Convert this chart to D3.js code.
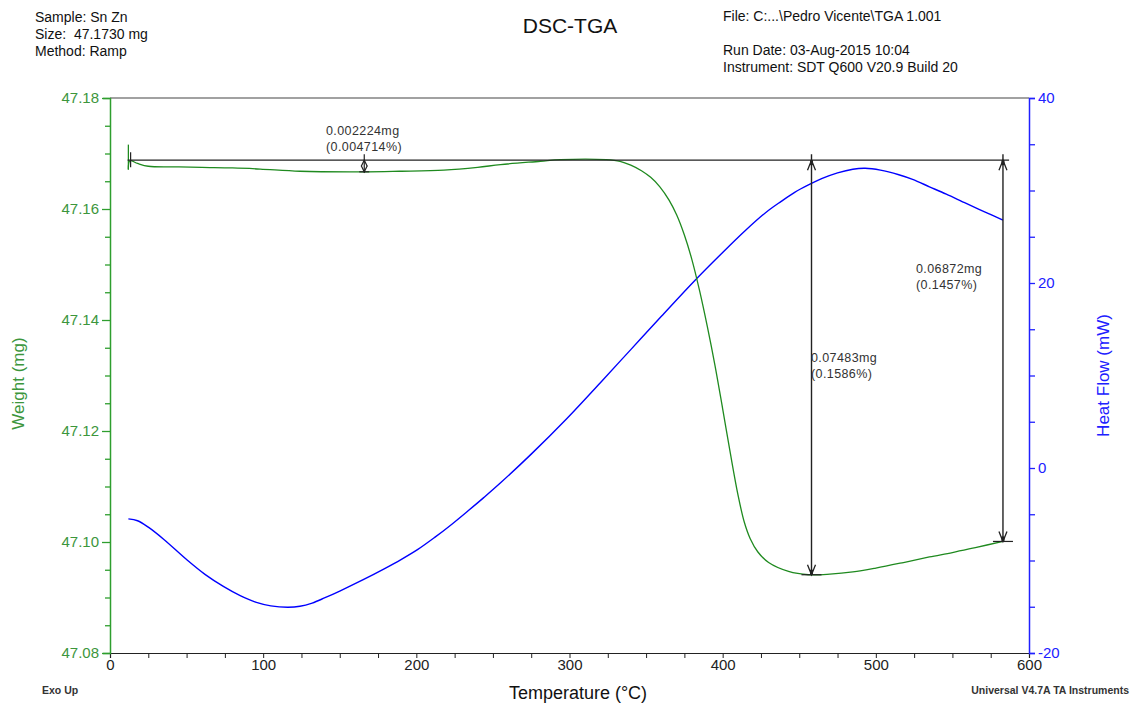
<!DOCTYPE html>
<html>
<head>
<meta charset="utf-8">
<script src="https://cdn.jsdelivr.net/npm/d3@7"></script>
<style>
  body { margin: 0; background: #fff; }
  svg text { font-family: "Liberation Sans", Arial, sans-serif; }
</style>
</head>
<body>
<svg width="1134" height="706"></svg>
<script>
// weight curve (temperature in C, weight in mg)
const weightTemp = [12, 13, 18, 25, 45, 60, 80, 98, 124, 166, 189, 218, 240, 255, 281, 294, 324, 333, 340, 347, 353, 359, 365, 370, 375, 380, 385, 390, 395, 400, 405, 410, 414, 418, 423, 430, 443, 456, 470, 485, 500, 518, 535, 550, 565, 583];
const weightVal = [47.1671, 47.1687, 47.1682, 47.1677, 47.1676, 47.1675, 47.1674, 47.1672, 47.1668, 47.1667, 47.1668, 47.1670, 47.1675, 47.1680, 47.1686, 47.1689, 47.1689, 47.1686, 47.1679, 47.1669, 47.1657, 47.1640, 47.1616, 47.1589, 47.1553, 47.1508, 47.1452, 47.1388, 47.1318, 47.1240, 47.1160, 47.1085, 47.1037, 47.1006, 47.0982, 47.0963, 47.0947, 47.0941, 47.0942, 47.0946, 47.0953, 47.0963, 47.0973, 47.0981, 47.0990, 47.1001];
// start spike of the weight signal
const spikeTemp = 12;
const spikeVal = [47.1716, 47.1671];

// heat flow curve (mW)
const heatTemp = [12, 18, 25, 35, 50, 62, 74, 85, 95, 105, 116, 124, 132, 140, 150, 165, 179, 190, 201, 212, 223, 234, 244, 255, 275, 298, 320, 340, 360, 382, 400, 415, 428, 438, 447, 456, 465, 475, 485, 493, 503, 515, 524, 535, 546, 559, 571, 583];
const heatVal = [-5.5, -5.7, -6.4, -7.7, -9.9, -11.5, -12.8, -13.8, -14.5, -14.9, -15.05, -14.95, -14.6, -14.05, -13.3, -12.1, -10.9, -9.9, -8.8, -7.5, -6.1, -4.6, -3.2, -1.6, 1.5, 5.3, 9.2, 12.8, 16.4, 20.3, 23.3, 25.7, 27.6, 28.8, 29.8, 30.6, 31.3, 31.9, 32.3, 32.4, 32.2, 31.7, 31.2, 30.4, 29.6, 28.6, 27.7, 26.8];

// step annotations
const baseWeight = 47.1688;
const lineStart = 11.5, lineEnd = 587;
const stepTemp = [166, 458, 583];
const stepLow = [47.1667, 47.0941, 47.1001];
const stepLabels = [
  ["0.002224mg", "(0.004714%)"],
  ["0.07483mg", "(0.1586%)"],
  ["0.06872mg", "(0.1457%)"]
];

const xTicks = [0, 100, 200, 300, 400, 500, 600];
const yLeftTicks = [47.08, 47.10, 47.12, 47.14, 47.16, 47.18];
const yRightTicks = [-20, 0, 20, 40];

const svg = d3.select("svg");
const margin = { left: 110, right: 105, top: 98, bottom: 53 };

const x = d3.scaleLinear().domain([0, 600]).range([margin.left, 1029]);
const yL = d3.scaleLinear().domain([47.08, 47.18]).range([653, margin.top]);
const yR = d3.scaleLinear().domain([-20, 40]).range([653, margin.top]);

const greenAxis = "#2e9e2e", greenText = "#3c963c", greenLine = "#1f8a1f";
const blueAxis = "#2020ff", blueLine = "#0000ff";

// header texts
const hdr = svg.append("g").attr("font-size", 14).attr("fill", "#111");
["Sample: Sn Zn", "Size:  47.1730 mg", "Method: Ramp"].forEach((t, i) => {
  hdr.append("text").attr("x", 35).attr("y", 22 + i * 17).attr("xml:space", "preserve").text(t);
});
[["File: C:...\\Pedro Vicente\\TGA 1.001", 21], ["Run Date: 03-Aug-2015 10:04", 55], ["Instrument: SDT Q600 V20.9 Build 20", 72]].forEach(([t, yy]) => {
  hdr.append("text").attr("x", 723).attr("y", yy).text(t);
});
svg.append("text").attr("x", 570).attr("y", 33).attr("text-anchor", "middle")
  .attr("font-size", 21).attr("fill", "#111").text("DSC-TGA");

// frame top
svg.append("line").attr("x1", x(0)).attr("x2", x(600)).attr("y1", yL(47.18)).attr("y2", yL(47.18))
  .attr("stroke", "#444").attr("stroke-width", 1.2);

// bottom axis
const xAxisG = svg.append("g").attr("transform", `translate(0,${yL(47.08)})`)
  .call(d3.axisBottom(x).tickValues(d3.range(0, 601, 25)).tickSize(5).tickFormat(d => xTicks.includes(d) ? d : ""));
xAxisG.select(".domain").attr("stroke", "#222").attr("stroke-width", 1.2);
xAxisG.selectAll(".tick line").attr("stroke", "#222");
xAxisG.selectAll(".tick text").attr("font-size", 15).attr("fill", "#222").attr("dy", "0.6em")
  .attr("font-family", "Liberation Sans, Arial, sans-serif");

// left axis
const yLAxisG = svg.append("g").attr("transform", `translate(${x(0)},0)`)
  .call(d3.axisLeft(yL).tickValues(d3.range(0, 21).map(i => 47.08 + i * 0.005)).tickSize(7)
    .tickFormat(d => yLeftTicks.some(t => Math.abs(t - d) < 1e-6) ? d3.format(".2f")(d) : ""));
yLAxisG.select(".domain").attr("stroke", greenAxis).attr("stroke-width", 1.5);
yLAxisG.selectAll(".tick line").attr("stroke", greenAxis).attr("stroke-width", 1.3)
  .attr("x2", d => yLeftTicks.some(t => Math.abs(t - d) < 1e-6) ? -8 : -5);
yLAxisG.selectAll(".tick text").attr("font-size", 15).attr("fill", greenText).attr("x", -11)
  .attr("font-family", "Liberation Sans, Arial, sans-serif");

// right axis
const yRAxisG = svg.append("g").attr("transform", `translate(${x(600)},0)`)
  .call(d3.axisRight(yR).tickValues(d3.range(-20, 41, 5)).tickSize(6)
    .tickFormat(d => yRightTicks.includes(d) ? d : ""));
yRAxisG.select(".domain").attr("stroke", blueAxis).attr("stroke-width", 1.5);
yRAxisG.selectAll(".tick line").attr("stroke", blueAxis).attr("stroke-width", 1.3);
yRAxisG.selectAll(".tick text").attr("font-size", 15).attr("fill", blueAxis).attr("x", 9)
  .attr("font-family", "Liberation Sans, Arial, sans-serif");

// axis titles
svg.append("text").attr("transform", `translate(24,${(yL(47.08) + yL(47.18)) / 2 + 8}) rotate(-90)`)
  .attr("text-anchor", "middle").attr("font-size", 17).attr("fill", greenText).text("Weight (mg)");
svg.append("text").attr("transform", `translate(1109,${(yR(-20) + yR(40)) / 2}) rotate(-90)`)
  .attr("text-anchor", "middle").attr("font-size", 17).attr("fill", blueAxis).text("Heat Flow (mW)");
svg.append("text").attr("x", 578).attr("y", 699).attr("text-anchor", "middle")
  .attr("font-size", 18).attr("fill", "#111").text("Temperature (°C)");
svg.append("text").attr("x", 42).attr("y", 694).attr("font-size", 10.5).attr("font-weight", "bold")
  .attr("fill", "#333").text("Exo Up");
svg.append("text").attr("x", 1129).attr("y", 694).attr("text-anchor", "end").attr("font-size", 10.5)
  .attr("font-weight", "bold").attr("fill", "#333").text("Universal V4.7A TA Instruments");

// curves
const weightData = weightTemp.map((t, i) => [t, weightVal[i]]);
const heatData = heatTemp.map((t, i) => [t, heatVal[i]]);

svg.append("path").datum(heatData)
  .attr("fill", "none").attr("stroke", blueLine).attr("stroke-width", 1.4)
  .attr("d", d3.line().x(d => x(d[0])).y(d => yR(d[1])).curve(d3.curveCatmullRom.alpha(0.5)));

svg.append("path").datum(weightData)
  .attr("fill", "none").attr("stroke", greenLine).attr("stroke-width", 1.3)
  .attr("d", d3.line().x(d => x(d[0])).y(d => yL(d[1])).curve(d3.curveCatmullRom.alpha(0.5)));
svg.append("line").attr("x1", x(spikeTemp)).attr("x2", x(spikeTemp))
  .attr("y1", yL(spikeVal[0])).attr("y2", yL(spikeVal[1]))
  .attr("stroke", greenLine).attr("stroke-width", 1.3);

// annotations
const ann = svg.append("g").attr("stroke", "#222").attr("fill", "none");
ann.append("line").attr("x1", x(lineStart)).attr("x2", x(lineEnd))
  .attr("y1", yL(baseWeight)).attr("y2", yL(baseWeight)).attr("stroke-width", 1.2);
// start marker
ann.append("line").attr("x1", x(lineStart) + 3).attr("x2", x(lineStart) + 3)
  .attr("y1", yL(baseWeight) - 8).attr("y2", yL(baseWeight) + 7).attr("stroke-width", 1.2);

function arrowHead(g, cx, tipY, dir) {
  // dir = -1 points up, +1 points down
  g.append("path")
    .attr("d", `M${cx - 4},${tipY - dir * 10} L${cx},${tipY} L${cx + 4},${tipY - dir * 10}`)
    .attr("stroke-width", 1.3);
  g.append("rect").attr("x", cx - 1.5).attr("y", dir < 0 ? tipY : tipY - 5)
    .attr("width", 3).attr("height", 5).attr("fill", "#222").attr("stroke", "none");
}

stepTemp.forEach((t, i) => {
  const cx = x(t), y0 = yL(baseWeight), y1 = yL(stepLow[i]);
  if (i === 0) {
    ann.append("line").attr("x1", cx).attr("x2", cx).attr("y1", y0 - 6).attr("y2", y1 + 1).attr("stroke-width", 1.2);
    ann.append("path").attr("d", `M${cx - 3},${y0 + 6} L${cx},${y0} L${cx + 3},${y0 + 6}`).attr("stroke-width", 1.2);
    ann.append("path").attr("d", `M${cx - 3},${y1 - 6} L${cx},${y1} L${cx + 3},${y1 - 6}`).attr("stroke-width", 1.2);
    ann.append("line").attr("x1", cx - 5).attr("x2", cx + 5).attr("y1", y1).attr("y2", y1).attr("stroke-width", 1.2);
  } else {
    ann.append("line").attr("x1", cx).attr("x2", cx).attr("y1", y0 - 6).attr("y2", y1).attr("stroke-width", 1.4);
    arrowHead(ann, cx, y0, -1);
    arrowHead(ann, cx, y1, 1);
    ann.append("line").attr("x1", cx - 10).attr("x2", cx + 10).attr("y1", y1).attr("y2", y1).attr("stroke-width", 1.2);
  }
});

const labelPos = [[326, 135], [811, 362], [916, 273]];
stepLabels.forEach((lines, i) => {
  lines.forEach((t, j) => {
    svg.append("text").attr("x", labelPos[i][0]).attr("y", labelPos[i][1] + j * 16)
      .attr("font-size", 12.5).attr("letter-spacing", 0.4).attr("fill", "#333").text(t);
  });
});
</script>
</body>
</html>
